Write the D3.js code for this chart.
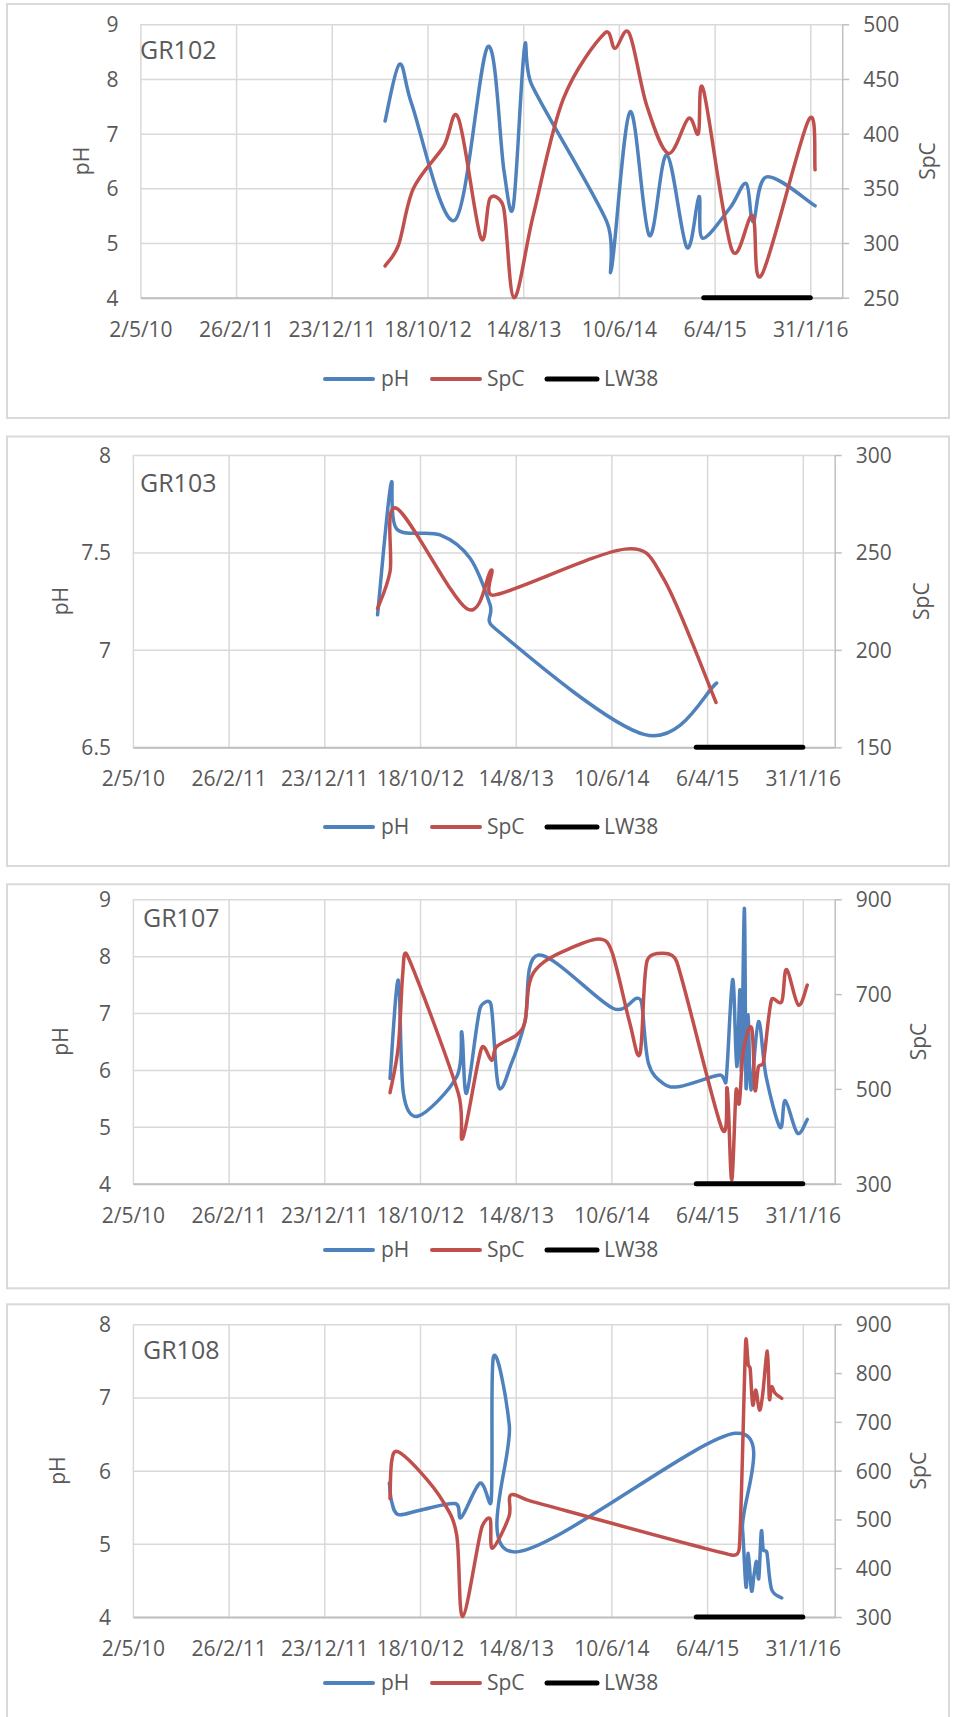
<!DOCTYPE html>
<html>
<head>
<meta charset="utf-8">
<script src="https://cdnjs.cloudflare.com/ajax/libs/d3/7.8.5/d3.min.js"></script>
<style>
  body { margin: 0; background: #fff; }
  svg text { font-family: "Open Sans", "Noto Sans", sans-serif; }
</style>
</head>
<body>
<svg id="chart" width="957" height="1717"></svg>
<script>
// ---------- DATA (dates are Excel serial day numbers) ----------
const xDomain = [40300, 42500];
const xTickDates = [40300, 40600, 40900, 41200, 41500, 41800, 42100, 42400];
const lw38Dates = [42066, 42400];

const gr102PhDates = [41067, 41112, 41150, 41286, 41389, 41440, 41469, 41504, 41527, 41762, 41777, 41835, 41895, 41950, 42013, 42051, 42062, 42148, 42199, 42221, 42263, 42415];
const gr102Ph      = [7.23, 8.27, 7.55, 5.42, 8.59, 6.31, 5.67, 8.57, 7.89, 5.39, 4.54, 7.40, 5.14, 6.61, 4.92, 5.85, 5.09, 5.64, 6.09, 5.39, 6.21, 5.68];
const gr102SpcDates = [41067, 41109, 41156, 41250, 41297, 41367, 41396, 41438, 41471, 41532, 41626, 41756, 41788, 41832, 41887, 41955, 42018, 42049, 42065, 42154, 42219, 42248, 42394, 42415];
const gr102Spc      = [279, 298, 350, 388, 414, 305, 341, 333, 250, 326, 432, 492, 478, 492, 426, 382, 414, 400, 440, 294, 325, 271, 412, 367];

const gr103PhDates = [41067, 41109, 41127, 41263, 41357, 41420, 41428, 41905, 42130];
const gr103Ph      = [7.18, 7.85, 7.62, 7.59, 7.47, 7.23, 7.12, 6.565, 6.83];
const gr103SpcDates = [41067, 41106, 41127, 41346, 41423, 41432, 41843, 41963, 42128];
const gr103Spc      = [221.2, 240.1, 272.6, 221.2, 240.9, 228.1, 251.7, 236.7, 173];

const gr107PhDates = [41106, 41132, 41148, 41195, 41315, 41331, 41346, 41388, 41422, 41446, 41487, 41529, 41571, 41806, 41879, 41895, 41916, 41963, 42015, 42140, 42159, 42180, 42193, 42203, 42208, 42217, 42222, 42229, 42237, 42261, 42285, 42329, 42345, 42383, 42414];
const gr107Ph      = [5.85, 7.58, 5.59, 5.19, 5.88, 6.67, 5.59, 7.08, 7.16, 5.71, 6.12, 6.85, 8.02, 7.08, 7.26, 7.17, 6.12, 5.76, 5.71, 5.91, 5.79, 7.59, 6.06, 7.41, 6.00, 8.84, 5.71, 6.97, 5.65, 6.85, 5.88, 4.99, 5.46, 4.89, 5.13];
const gr107SpcDates = [41106, 41132, 41146, 41160, 41320, 41334, 41393, 41425, 41440, 41503, 41529, 41543, 41576, 41649, 41759, 41801, 41858, 41890, 41911, 41963, 42005, 42146, 42163, 42177, 42191, 42201, 42214, 42240, 42250, 42261, 42276, 42302, 42334, 42349, 42386, 42414];
const gr107Spc      = [492, 589, 744, 782, 491, 396, 586, 560, 589, 614, 642, 723, 761, 790, 816, 790, 638, 575, 768, 786, 768, 417, 501, 308, 498, 470, 582, 628, 498, 547, 554, 688, 684, 752, 677, 719];

const gr108PhDates = [41104, 41111, 41132, 41200, 41310, 41329, 41388, 41423, 41430, 41480, 41495, 42188, 42211, 42222, 42229, 42239, 42247, 42255, 42262, 42270, 42276, 42287, 42302, 42334];
const gr108Ph      = [5.83, 5.58, 5.40, 5.46, 5.55, 5.36, 5.83, 5.58, 7.55, 6.62, 4.89, 6.51, 5.21, 4.41, 4.87, 4.36, 4.57, 4.76, 4.53, 5.17, 4.92, 4.89, 4.38, 4.26];
const gr108SpcDates = [41106, 41111, 41130, 41200, 41273, 41315, 41334, 41393, 41420, 41427, 41479, 41484, 41545, 42177, 42201, 42221, 42229, 42235, 42243, 42253, 42264, 42274, 42289, 42295, 42302, 42313, 42334];
const gr108Spc      = [543, 618, 639, 598, 536, 468, 301, 482, 501, 441, 506, 550, 538, 427, 441, 865, 817, 810, 735, 765, 724, 755, 845, 748, 772, 759, 748];

const gr102PhTicks = [4, 5, 6, 7, 8, 9],  gr102SpcTicks = [250, 300, 350, 400, 450, 500];
const gr103PhTicks = [6.5, 7, 7.5, 8],    gr103SpcTicks = [150, 200, 250, 300];
const gr107PhTicks = [4, 5, 6, 7, 8, 9],  gr107SpcTicks = [300, 500, 700, 900];
const gr108PhTicks = [4, 5, 6, 7, 8],     gr108SpcTicks = [300, 400, 500, 600, 700, 800, 900];

// ---------- LAYOUT ----------
const panels = [
  { name: "GR102", phD: gr102PhDates, ph: gr102Ph, spcD: gr102SpcDates, spc: gr102Spc,
    phTicks: gr102PhTicks, spcTicks: gr102SpcTicks,
    box: [7, 4, 942, 414], plot: [140.4, 24.3, 842.2, 297.7],
    phTitleX: 82, spcTitleX: 928, legendY: 379, nameX: 140, nameY: 50 },
  { name: "GR103", phD: gr103PhDates, ph: gr103Ph, spcD: gr103SpcDates, spc: gr103Spc,
    phTicks: gr103PhTicks, spcTicks: gr103SpcTicks,
    box: [7, 436.5, 942, 429.5], plot: [132.9, 455, 834.7, 747.3],
    phTitleX: 61, spcTitleX: 921.6, legendY: 827, nameX: 140, nameY: 483 },
  { name: "GR107", phD: gr107PhDates, ph: gr107Ph, spcD: gr107SpcDates, spc: gr107Spc,
    phTicks: gr107PhTicks, spcTicks: gr107SpcTicks,
    box: [7, 884.3, 942, 404], plot: [132.9, 899.3, 834.7, 1183.7],
    phTitleX: 61, spcTitleX: 918.5, legendY: 1250, nameX: 143, nameY: 918 },
  { name: "GR108", phD: gr108PhDates, ph: gr108Ph, spcD: gr108SpcDates, spc: gr108Spc,
    phTicks: gr108PhTicks, spcTicks: gr108SpcTicks,
    box: [7, 1304.3, 942, 500], plot: [132.9, 1324.3, 834.7, 1617],
    phTitleX: 58, spcTitleX: 918.5, legendY: 1683, nameX: 143, nameY: 1350 }
];

const BLUE = "#4f81bd", RED = "#c0504d", GRID = "#d9d9d9", AXIS = "#bfbfbf", TXT = "#595959";
const FS = 21;

// Excel-like smoothed line: Catmull-Rom Bezier (1/6 rule) with control length limited by segment length
function ExcelSmooth(context) { this._context = context; }
ExcelSmooth.prototype = {
  areaStart() {}, areaEnd() {},
  lineStart() { this._pts = []; },
  point(x, y) { this._pts.push([+x, +y]); },
  lineEnd() {
    const p = this._pts, c = this._context, n = p.length;
    if (!n) return;
    c.moveTo(p[0][0], p[0][1]);
    if (n === 1) return;
    const K = 0.5;
    const clamp = (v, lim) => {
      const L = Math.hypot(v[0], v[1]);
      return L > lim && L > 0 ? [v[0] * lim / L, v[1] * lim / L] : v;
    };
    for (let i = 0; i < n - 1; i++) {
      const p0 = p[Math.max(i - 1, 0)], p1 = p[i], p2 = p[i + 1], p3 = p[Math.min(i + 2, n - 1)];
      const seg = Math.hypot(p2[0] - p1[0], p2[1] - p1[1]);
      const t1 = clamp([(p2[0] - p0[0]) / 6, (p2[1] - p0[1]) / 6], seg * K);
      const t2 = clamp([(p3[0] - p1[0]) / 6, (p3[1] - p1[1]) / 6], seg * K);
      c.bezierCurveTo(p1[0] + t1[0], p1[1] + t1[1], p2[0] - t2[0], p2[1] - t2[1], p2[0], p2[1]);
    }
  }
};
const excelCurve = ctx => new ExcelSmooth(ctx);

const toDate = s => new Date(Date.UTC(1899, 11, 30) + s * 864e5);
const fmt = d3.utcFormat("%-d/%-m/%y");
const svg = d3.select("#chart");

panels.forEach((p, pi) => {
  const [bx, by, bw, bh] = p.box;
  svg.append("rect").attr("x", bx).attr("y", by).attr("width", bw).attr("height", bh)
    .attr("fill", "#fff").attr("stroke", GRID).attr("stroke-width", 2);

  const [l, t, r, b] = p.plot;
  const x = d3.scaleLinear().domain(xDomain).range([l, r]);
  const yL = d3.scaleLinear().domain(d3.extent(p.phTicks)).range([b, t]);
  const yR = d3.scaleLinear().domain(d3.extent(p.spcTicks)).range([b, t]);
  const g = svg.append("g").attr("font-family", "'Open Sans', 'Noto Sans', sans-serif");

  // vertical gridlines
  g.append("g").attr("transform", `translate(0,${b})`)
    .call(d3.axisBottom(x).tickValues(xTickDates).tickSize(-(b - t)).tickFormat(""))
    .call(s => { s.select(".domain").remove(); s.selectAll("line").attr("stroke", GRID).attr("stroke-width", 1.5); });
  // horizontal gridlines
  g.append("g").attr("transform", `translate(${l},0)`)
    .call(d3.axisLeft(yL).tickValues(p.phTicks).tickSize(-(r - l)).tickFormat(""))
    .call(s => { s.select(".domain").remove(); s.selectAll("line").attr("stroke", GRID).attr("stroke-width", 1.5); });

  // bottom axis line + labels
  g.append("g").attr("transform", `translate(0,${b})`)
    .call(d3.axisBottom(x).tickValues(xTickDates).tickSize(0).tickPadding(24).tickSizeOuter(0)
      .tickFormat(d => fmt(toDate(d))))
    .call(s => {
      s.select(".domain").attr("stroke", AXIS).attr("stroke-width", 2);
      s.selectAll("text").attr("fill", TXT).attr("font-size", FS);
    });

  // left labels
  g.append("g").attr("transform", `translate(${l},0)`)
    .call(d3.axisLeft(yL).tickValues(p.phTicks).tickSize(0).tickPadding(22).tickFormat(d => String(d)))
    .call(s => { s.select(".domain").remove(); s.selectAll("text").attr("fill", TXT).attr("font-size", FS).attr("dy", "0.35em"); });

  // right axis
  g.append("g").attr("transform", `translate(${r},0)`)
    .call(d3.axisRight(yR).tickValues(p.spcTicks).tickSize(7).tickPadding(14).tickSizeOuter(0))
    .call(s => {
      s.select(".domain").attr("stroke", AXIS).attr("stroke-width", 1.5);
      s.selectAll(".tick line").attr("stroke", AXIS).attr("stroke-width", 1.5);
      s.selectAll("text").attr("fill", TXT).attr("font-size", FS).attr("dy", "0.35em");
    });

  // axis titles
  const cy = (t + b) / 2;
  g.append("text").attr("transform", `translate(${p.phTitleX},${cy}) rotate(-90)`)
    .attr("text-anchor", "middle").attr("dy", "0.35em").attr("fill", TXT).attr("font-size", FS).text("pH");
  g.append("text").attr("transform", `translate(${p.spcTitleX},${cy}) rotate(-90)`)
    .attr("text-anchor", "middle").attr("dy", "0.35em").attr("fill", TXT).attr("font-size", FS).text("SpC");

  // panel name
  g.append("text").attr("x", p.nameX).attr("y", p.nameY).attr("dy", "0.35em")
    .attr("fill", TXT).attr("font-size", 25).text(p.name);

  // clip
  const cid = "clip" + pi;
  svg.append("clipPath").attr("id", cid).append("rect")
    .attr("x", l - 2).attr("y", t - 2).attr("width", r - l + 4).attr("height", b - t + 4);
  const series = g.append("g").attr("clip-path", `url(#${cid})`);

  const phLine = d3.line().x(d => x(d[0])).y(d => yL(d[1])).curve(excelCurve);
  const spcLine = d3.line().x(d => x(d[0])).y(d => yR(d[1])).curve(excelCurve);

  series.append("path").datum(p.phD.map((d, i) => [d, p.ph[i]]))
    .attr("d", phLine).attr("fill", "none").attr("stroke", BLUE).attr("stroke-width", 3.5)
    .attr("stroke-linejoin", "round").attr("stroke-linecap", "round");
  series.append("path").datum(p.spcD.map((d, i) => [d, p.spc[i]]))
    .attr("d", spcLine).attr("fill", "none").attr("stroke", RED).attr("stroke-width", 3.5)
    .attr("stroke-linejoin", "round").attr("stroke-linecap", "round");

  // LW38 bar at the bottom of the pH axis
  const lwLevel = yL.domain()[0];
  g.append("path").datum(lw38Dates.map(d => [d, lwLevel]))
    .attr("d", d3.line().x(d => x(d[0])).y(d => yL(d[1])))
    .attr("stroke", "#000").attr("stroke-width", 5).attr("stroke-linecap", "round").attr("fill", "none");

  // legend
  const ly = p.legendY;
  const leg = [
    { label: "pH", color: BLUE, w: 4, x1: 325, x2: 373, tx: 381 },
    { label: "SpC", color: RED, w: 4, x1: 432, x2: 480, tx: 487 },
    { label: "LW38", color: "#000", w: 5, x1: 547, x2: 597, tx: 604 }
  ];
  leg.forEach(e => {
    g.append("line").attr("x1", e.x1).attr("x2", e.x2).attr("y1", ly).attr("y2", ly)
      .attr("stroke", e.color).attr("stroke-width", e.w).attr("stroke-linecap", "round");
    g.append("text").attr("x", e.tx).attr("y", ly).attr("dy", "0.35em")
      .attr("fill", TXT).attr("font-size", FS).text(e.label);
  });
});
</script>
</body>
</html>
